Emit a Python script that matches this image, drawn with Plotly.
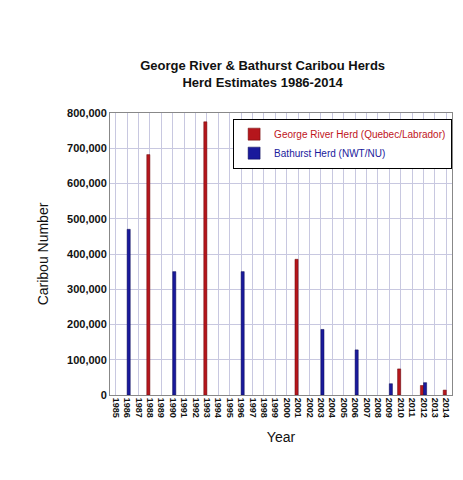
import plotly.graph_objects as go

years = [str(y) for y in range(1985, 2015)]
george_years = ["1988", "1993", "2001", "2010", "2012", "2014"]
george_vals = [682000, 775000, 385000, 74000, 27000, 14000]
bathurst_years = ["1986", "1990", "1996", "2003", "2006", "2009", "2012"]
bathurst_vals = [470000, 350000, 350000, 186000, 128000, 32000, 35000]

fig = go.Figure()
fig.add_trace(go.Bar(x=george_years, y=george_vals,
                     name="<span style='color:#c0141c'>George River Herd (Quebec/Labrador)</span>",
                     marker=dict(color="#b5161c", line=dict(color="#6a0a0a", width=0.5))))
fig.add_trace(go.Bar(x=bathurst_years, y=bathurst_vals,
                     name="<span style='color:#1a1a9c'>Bathurst Herd (NWT/NU)</span>",
                     marker=dict(color="#1a1a9c", line=dict(color="#0a0a50", width=0.5))))

fig.update_layout(
    width=463, height=480,
    barmode="group", bargap=0.45, bargroupgap=0,
    font=dict(family="Liberation Sans, Arial", color="#111"),
    title=dict(text="<b>George River & Bathurst Caribou Herds<br>Herd Estimates 1986-2014</b>",
               x=0.55, xanchor="center", y=0.87, font=dict(size=13)),
    margin=dict(l=102, r=19, t=105, b=93),
    plot_bgcolor="white", paper_bgcolor="white",
    legend=dict(x=0.36, y=0.98, xanchor="left", yanchor="top",
                bordercolor="black", borderwidth=1, bgcolor="white",
                font=dict(size=10)),
    xaxis=dict(type="category", categoryorder="array", categoryarray=years,
               tickmode="array", tickvals=years, ticktext=["<b>%s</b>" % y for y in years],
               tickangle=90, tickfont=dict(size=9), showgrid=True, gridcolor="#c8c8e0",
               title=dict(text="Year", font=dict(size=14)),
               showline=True, linecolor="#888", mirror=True, range=[-0.5, 29.5]),
    yaxis=dict(range=[0, 800000], tickvals=list(range(0, 800001, 100000)),
               ticktext=["<b>{:,}</b>".format(v) for v in range(0, 800001, 100000)],
               tickfont=dict(size=11), showgrid=True, gridcolor="#c8c8e0",
               title=dict(text="Caribou Number", font=dict(size=14)),
               showline=True, linecolor="#888", mirror=True, zeroline=False),
)

fig.write_html("out.html")
